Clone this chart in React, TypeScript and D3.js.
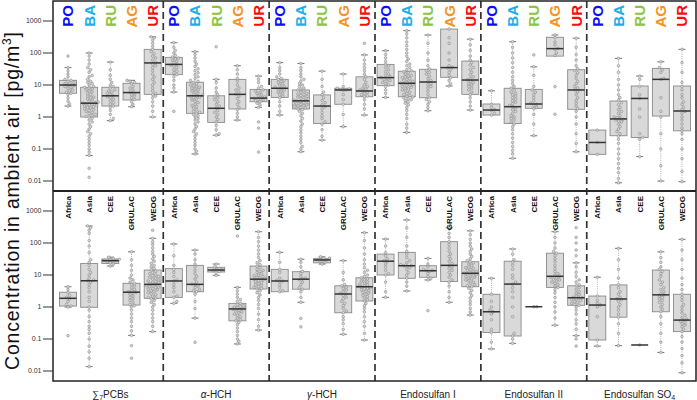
import React from "react";
import * as d3 from "d3";

// ---------- categories & labels ----------
const compounds = ["∑7PCBs", "α-HCH", "γ-HCH", "Endosulfan I", "Endosulfan II", "Endosulfan SO4"];
const samplerTypes = ["PO", "BA", "RU", "AG", "UR"];
const samplerColors = ["#0a0aff", "#1eaee8", "#8cc63f", "#f7931e", "#ff0a0a"];
const regions = ["Africa", "Asia", "CEE", "GRULAC", "WEOG"];
const tickValues = [0.01, 0.1, 1, 10, 100, 1000];
const tickLabels = ["0.01", "0.1", "1", "10", "100", "1000"];

// ---------- box statistics: [lowWhisker, q1, median, q3, highWhisker] ----------
// top panel: by sampler type (PO, BA, RU, AG, UR)
const pcbsTypeStats = [[2.2, 5.5, 10, 14, 35], [0.063, 1.0, 2.7, 8.5, 100], [0.77, 2.2, 4.6, 8.5, 52], [2.1, 3.4, 5.8, 11.3, 14], [1.0, 5.1, 49, 130, 320]];
const ahchTypeStats = [[6, 21, 44, 73, 210], [0.07, 1.3, 4.6, 12.2, 110], [0.27, 0.68, 1.87, 4.6, 15], [0.8, 1.78, 5.1, 15, 40], [2.0, 3.0, 3.9, 7.3, 19]];
const ghchTypeStats = [[1.15, 4.1, 7.9, 15, 50], [0.082, 1.78, 3.2, 7.0, 47], [0.19, 0.63, 2.2, 4.9, 27], [0.5, 2.5, 7.0, 7.9, 22], [1.15, 4.3, 6.5, 18, 87]];
const endoITypeStats = [[4.1, 9.5, 17, 44, 118], [0.33, 4.3, 11.3, 27, 500], [1.57, 4.0, 12.4, 31, 365], [9.3, 17.4, 35, 560, 560], [1.65, 5.1, 14.3, 56, 270]];
const endoIITypeStats = [[1.15, 1.15, 1.65, 2.55, 6.6], [0.051, 0.63, 2.1, 7.9, 225], [0.26, 1.87, 2.55, 7.3, 37], [80, 80, 137, 310, 365], [0.082, 1.74, 7.0, 30, 290]];
const endoSO4TypeStats = [[0.068, 0.068, 0.16, 0.39, 0.39], [0.0088, 0.26, 0.87, 3.16, 68], [0.058, 0.23, 3.8, 9.3, 19], [0.01, 1.07, 15, 33, 53], [0.0095, 0.37, 1.54, 9.3, 130]];

// bottom panel: by UN region (Africa, Asia, CEE, GRULAC, WEOG)
const pcbsRegionStats = [[1.0, 1.07, 1.87, 2.9, 4.3], [0.0137, 0.98, 6.6, 23, 340], [19, 23, 28, 31.6, 36], [0.13, 1.15, 2.9, 5.5, 53], [0.17, 1.87, 5.1, 14.3, 140]];
const ahchRegionStats = [[1.3, 2.0, 6.5, 15.8, 93], [0.45, 3.0, 5.1, 20, 60], [9.8, 12.4, 14.3, 17.4, 22], [0.07, 0.37, 0.87, 1.3, 4.1], [0.19, 3.65, 7.4, 19, 225]];
const ghchRegionStats = [[3.0, 3.0, 6.5, 15, 51], [1.4, 3.6, 7.4, 12.7, 31], [22, 24, 29.5, 33, 37], [0.14, 0.66, 2.55, 4.6, 28], [0.093, 1.54, 4.3, 8.2, 210]];
const endoIRegionStats = [[2.0, 10, 27, 45, 133], [3.16, 7.9, 19.5, 51, 525], [7, 8.5, 13.6, 19.5, 33], [1.4, 6.3, 20, 110, 300], [0.56, 4.3, 11.3, 26, 240]];
const endoIIRegionStats = [[0.049, 0.16, 0.71, 2.5, 7.9], [0.073, 0.124, 5.2, 27, 65], [1.02, 1.02, 1.02, 1.02, 1.02], [0.27, 4.1, 9.1, 48, 225], [0.127, 1.13, 1.95, 4.6, 24]];
const endoSO4RegionStats = [[0.06, 0.093, 1.15, 2.2, 8.5], [0.062, 0.48, 1.78, 4.9, 68], [0.065, 0.065, 0.065, 0.065, 0.065], [0.038, 0.71, 2.4, 14.3, 53], [0.0088, 0.17, 0.39, 2.5, 130]];

// ---------- individual samples (pg/m3) ----------
const pcbsTypePoints = [
  [80, 35, 28, 22, 18, 15, 14, 13, 12, 11, 10.5, 10, 9.5, 9, 8.5, 8, 7, 6.5, 6, 5.5, 5, 4, 3.2, 2.6, 2.2],
  [100, 80, 60, 45, 35, 30, 25, 20, 18, 15, 13, 12, 11, 10, 9, 8.5, 8, 7.5, 7, 6.5, 6, 5.5, 5, 4.5, 4.2, 4, 3.7, 3.4, 3.1, 2.9, 2.8, 2.7, 2.6, 2.5, 2.4, 2.3, 2.2, 2.1, 2, 1.9, 1.8, 1.7, 1.6, 1.5, 1.4, 1.3, 1.2, 1.1, 1.05, 1.0, 0.9, 0.8, 0.7, 0.6, 0.5, 0.42, 0.35, 0.3, 0.25, 0.2, 0.16, 0.13, 0.1, 0.08, 0.063, 0.025, 0.013],
  [52, 30, 20, 15, 12, 10, 9, 8, 7, 6.5, 6, 5.5, 5, 4.6, 4.3, 4, 3.6, 3.2, 2.8, 2.5, 2.2, 2, 1.6, 1.2, 0.9, 0.77],
  [14, 13, 12, 11, 9, 8, 7, 6, 5.5, 5, 4.5, 4, 3.5, 3, 2.5, 2.1],
  [320, 300, 250, 200, 160, 130, 110, 95, 80, 70, 60, 50, 45, 40, 35, 28, 22, 18, 15, 12, 10, 8, 6.5, 5.5, 5, 4.5, 4, 3, 2.2, 1.5, 1.0],
];
const ahchTypePoints = [
  [210, 150, 120, 100, 85, 75, 70, 65, 60, 55, 50, 45, 42, 40, 35, 30, 27, 24, 21, 18, 14, 10, 8, 6, 1.5],
  [110, 90, 70, 55, 45, 38, 32, 28, 24, 21, 18, 16, 14, 13, 12, 11, 10, 9.5, 9, 8.5, 8, 7.5, 7, 6.5, 6, 5.5, 5, 4.8, 4.6, 4.4, 4.2, 4, 3.7, 3.4, 3.1, 2.8, 2.5, 2.3, 2.1, 1.9, 1.7, 1.5, 1.4, 1.3, 1.2, 1.1, 1, 0.9, 0.8, 0.7, 0.6, 0.5, 0.42, 0.35, 0.3, 0.25, 0.2, 0.16, 0.13, 0.1, 0.085, 0.07],
  [157, 15, 12, 8, 6, 5, 4.5, 4, 3.5, 3, 2.5, 2.2, 1.9, 1.6, 1.4, 1.2, 1, 0.85, 0.7, 0.55, 0.4, 0.3, 0.27],
  [40, 30, 22, 16, 13, 10, 8, 7, 6, 5.2, 4.5, 3.8, 3, 2.5, 2, 1.7, 1.3, 1, 0.8],
  [19, 15, 12, 9, 8, 7, 6.5, 6, 5.5, 5, 4.6, 4.2, 4, 3.8, 3.6, 3.4, 3.2, 3, 2.7, 2.4, 2, 0.7, 0.45, 0.08],
];
const ghchTypePoints = [
  [50, 35, 28, 22, 18, 16, 15, 14, 13, 12, 11, 10, 9, 8.5, 8, 7.5, 7, 6.5, 6, 5.5, 5, 4.5, 4, 3, 2.2, 1.5, 1.15],
  [47, 35, 28, 22, 18, 15, 13, 11, 10, 9, 8, 7.5, 7, 6.5, 6, 5.5, 5.2, 5, 4.7, 4.4, 4.2, 4, 3.8, 3.6, 3.4, 3.3, 3.2, 3.1, 3, 2.9, 2.8, 2.7, 2.6, 2.5, 2.4, 2.3, 2.2, 2.1, 2, 1.9, 1.8, 1.7, 1.5, 1.3, 1.1, 0.9, 0.75, 0.6, 0.5, 0.4, 0.32, 0.25, 0.2, 0.16, 0.12, 0.1, 0.082],
  [27, 15, 9, 6, 5, 4, 3.3, 2.8, 2.4, 2.1, 1.8, 1.4, 1.1, 0.9, 0.7, 0.6, 0.4, 0.25, 0.19],
  [22, 9, 8, 7.5, 7.2, 7, 6.8, 5, 3.5, 2.5, 1.2, 0.5],
  [200, 87, 60, 45, 35, 28, 22, 18, 15, 12, 10, 9, 8, 7.5, 7, 6.5, 6, 5.5, 5, 4.6, 4.3, 3.5, 2.5, 1.8, 1.15],
];
const endoITypePoints = [
  [118, 90, 70, 55, 45, 40, 35, 30, 26, 22, 20, 18, 17, 16, 15, 14, 13, 12, 11, 10, 9, 7, 5.5, 4.1],
  [500, 400, 300, 220, 170, 130, 100, 80, 65, 55, 45, 40, 35, 30, 28, 26, 24, 22, 20, 19, 18, 17, 16, 15, 14, 13, 12.5, 12, 11.5, 11, 10.5, 10, 9.5, 9, 8.5, 8, 7.5, 7, 6.5, 6, 5.5, 5, 4.7, 4.4, 4.2, 4, 3.7, 3.5, 3.3, 3, 2.7, 2.4, 2, 1.6, 1.2, 0.9, 0.6, 0.45, 0.33],
  [365, 200, 100, 60, 40, 32, 28, 25, 22, 19, 16, 14, 12.5, 11, 10, 9, 8, 6.5, 5, 4, 3.5, 3, 2.5, 2, 1.57],
  [560, 300, 200, 100, 60, 40, 36, 34, 30, 25, 20, 17, 14, 11, 9.3],
  [270, 180, 120, 80, 60, 50, 42, 35, 30, 25, 21, 18, 16, 14.5, 13, 12, 11, 10, 9, 8, 7, 6, 5, 4, 3, 2.2, 1.65],
];
const endoIITypePoints = [
  [6.6, 2.5, 2.0, 1.7, 1.6, 1.3, 1.15],
  [225, 150, 100, 70, 50, 35, 25, 18, 14, 11, 9, 8, 7, 6, 5.5, 5, 4.5, 4, 3.6, 3.2, 2.9, 2.6, 2.3, 2.1, 1.9, 1.7, 1.5, 1.3, 1.1, 1, 0.9, 0.8, 0.7, 0.6, 0.5, 0.4, 0.3, 0.22, 0.16, 0.12, 0.09, 0.07, 0.051],
  [87, 37, 20, 9, 7, 6, 5, 4, 3.2, 2.7, 2.5, 2.3, 2, 1.8, 1.2, 0.6, 0.26],
  [365, 300, 220, 180, 140, 130, 100, 85, 8.9, 1.22],
  [290, 150, 90, 60, 40, 32, 28, 24, 20, 16, 13, 11, 9, 8, 7, 6, 5, 4, 3.3, 2.7, 2.2, 1.8, 1.5, 1, 0.6, 0.3, 0.15, 0.082],
];
const endoSO4TypePoints = [
  [0.39, 0.16, 0.068],
  [68, 40, 25, 15, 10, 7, 5, 4, 3.3, 2.8, 2.4, 2, 1.7, 1.5, 1.3, 1.1, 1, 0.95, 0.9, 0.85, 0.8, 0.75, 0.7, 0.6, 0.5, 0.42, 0.35, 0.3, 0.25, 0.2, 0.15, 0.1, 0.07, 0.05, 0.035, 0.025, 0.018, 0.012, 0.0088],
  [19, 15, 9, 5, 3.8, 1.8, 1, 0.3, 0.23, 0.2, 0.058],
  [53, 35, 30, 25, 16, 15, 4, 1.5, 1, 0.3, 0.1, 0.03, 0.01],
  [130, 50, 25, 12, 9, 7, 5, 4, 3, 2.5, 2, 1.7, 1.5, 1.3, 1, 0.8, 0.6, 0.45, 0.37, 0.3, 0.2, 0.1, 0.05, 0.02, 0.0095],
];

const pcbsRegionPoints = [
  [4.3, 3.5, 2.8, 2.3, 2, 1.8, 1.5, 1.2, 1.07, 1.0, 0.127],
  [340, 300, 250, 200, 120, 80, 50, 30, 25, 20, 15, 12, 10, 8, 7, 6.6, 6, 5, 4, 3, 2, 1.5, 1, 0.8, 0.5, 0.35, 0.25, 0.2, 0.15, 0.1, 0.06, 0.04, 0.025, 0.0137],
  [36, 33, 31, 30, 29, 28, 27, 26, 24, 22, 19],
  [53, 30, 20, 14, 10, 8, 7, 6, 5.5, 5, 4.5, 4, 3.5, 3.2, 3, 2.9, 2.7, 2.5, 2.2, 2, 1.8, 1.6, 1.4, 1.2, 1.1, 1, 0.8, 0.6, 0.45, 0.35, 0.25, 0.18, 0.13, 0.062, 0.025],
  [250, 140, 110, 90, 70, 55, 45, 38, 32, 27, 23, 20, 18, 16, 14.5, 13, 12, 11, 10, 9.5, 9, 8.5, 8, 7.5, 7, 6.5, 6.2, 6, 5.7, 5.4, 5.1, 4.9, 4.6, 4.4, 4.2, 4, 3.8, 3.6, 3.4, 3.2, 3, 2.8, 2.6, 2.4, 2.2, 2, 1.9, 1.8, 1.6, 1.4, 1.2, 1, 0.8, 0.6, 0.45, 0.35, 0.25, 0.17],
];
const ahchRegionPoints = [
  [93, 40, 20, 15, 12, 9, 7, 6.5, 5, 4, 3, 2.2, 2, 1.5, 1.3],
  [60, 45, 30, 22, 18, 14, 11, 9, 7.5, 6, 5.2, 5, 4.5, 4, 3.5, 3.2, 3, 2.5, 1.5, 0.9, 0.45, 0.079],
  [22, 18, 16, 15, 14.5, 14, 13, 12, 9.8],
  [165, 4.1, 3.2, 2.5, 2, 1.7, 1.5, 1.3, 1.2, 1.1, 1.05, 1, 0.95, 0.9, 0.87, 0.85, 0.8, 0.75, 0.7, 0.65, 0.6, 0.55, 0.5, 0.45, 0.4, 0.37, 0.33, 0.28, 0.22, 0.17, 0.13, 0.1, 0.085, 0.07],
  [225, 150, 110, 80, 60, 45, 35, 28, 24, 21, 19, 17, 15, 14, 13, 12, 11, 10, 9.5, 9, 8.5, 8, 7.7, 7.4, 7, 6.6, 6.2, 5.8, 5.4, 5, 4.7, 4.4, 4.1, 3.8, 3.65, 3.2, 2.8, 2.4, 2, 1.6, 1.2, 0.9, 0.6, 0.4, 0.25, 0.19],
];
const ghchRegionPoints = [
  [51, 25, 15, 12, 8, 6.8, 6.5, 6.3, 5, 4, 3.2, 3],
  [31, 25, 18, 13, 11, 9, 8, 7.5, 7, 6, 5, 4, 3.6, 3, 2, 1.4, 0.44, 0.24],
  [37, 34, 32, 30, 29.5, 29, 27, 25, 22],
  [28, 12, 7, 5, 4.6, 4.2, 3.8, 3.4, 3, 2.7, 2.55, 2.3, 2, 1.8, 1.5, 1.3, 1.1, 0.9, 0.75, 0.66, 0.5, 0.4, 0.3, 0.2, 0.14],
  [210, 120, 70, 45, 30, 22, 17, 14, 12, 10, 9, 8.2, 7.5, 7, 6.5, 6, 5.6, 5.2, 4.9, 4.6, 4.4, 4.3, 4.1, 3.9, 3.7, 3.5, 3.3, 3.1, 2.9, 2.7, 2.5, 2.3, 2.1, 1.9, 1.7, 1.54, 1.3, 1.1, 0.9, 0.7, 0.5, 0.35, 0.25, 0.15, 0.093],
];
const endoIRegionPoints = [
  [133, 80, 50, 40, 32, 28, 26, 22, 18, 14, 11, 10, 6, 3, 2],
  [525, 300, 150, 80, 55, 45, 35, 28, 24, 21, 20, 19.5, 19, 17, 15, 12, 10, 8, 6, 4.5, 3.16],
  [33, 22, 18, 15, 14, 13.6, 13, 11, 9, 8, 7, 0.77],
  [300, 200, 150, 110, 90, 70, 55, 45, 38, 32, 27, 23, 20, 18, 16, 14, 12, 10, 8.5, 7, 6, 4.5, 3, 2, 1.4],
  [240, 180, 130, 100, 80, 65, 55, 45, 38, 32, 28, 26, 24, 22, 20, 18, 17, 16, 15, 14, 13, 12.5, 12, 11.5, 11, 10.5, 10, 9.5, 9, 8.5, 8, 7.5, 7, 6.5, 6, 5.5, 5, 4.6, 4.3, 3.8, 3.3, 2.8, 2.3, 1.9, 1.5, 1.2, 0.9, 0.7, 0.56],
];
const endoIIRegionPoints = [
  [7.9, 2.5, 1.5, 1, 0.8, 0.71, 0.6, 0.4, 0.2, 0.16, 0.08, 0.049],
  [65, 45, 30, 25, 20, 15, 10, 8, 6, 5.2, 4, 3, 2, 1, 0.5, 0.15, 0.124, 0.1, 0.073],
  [1.02, 1.02],
  [225, 150, 100, 70, 55, 48, 40, 32, 26, 20, 16, 13, 11, 10, 9.1, 8.5, 8, 7.5, 7, 6.5, 6, 5.5, 5, 4.5, 4.1, 3.5, 2.8, 2, 1.4, 1, 0.7, 0.45, 0.27],
  [300, 150, 100, 60, 40, 24, 18, 12, 9, 7, 6, 5, 4.6, 4, 3.5, 3, 2.7, 2.4, 2.2, 2, 1.95, 1.9, 1.8, 1.7, 1.6, 1.5, 1.4, 1.3, 1.2, 1.13, 1, 0.8, 0.6, 0.4, 0.3, 0.2, 0.127, 0.1, 0.06],
];
const endoSO4RegionPoints = [
  [8.5, 2.2, 1.6, 1.3, 1.15, 1, 0.5, 0.093, 0.06],
  [68, 30, 15, 8, 5, 4, 3, 2.5, 2, 1.8, 1.7, 1.5, 1.2, 1, 0.8, 0.6, 0.48, 0.3, 0.15, 0.062],
  [0.065],
  [53, 35, 25, 18, 15, 13, 11, 9, 7, 6, 5, 4, 3.5, 3, 2.6, 2.4, 2.2, 2, 1.8, 1.6, 1.4, 1.2, 1, 0.85, 0.71, 0.5, 0.3, 0.15, 0.08, 0.038],
  [130, 60, 30, 15, 8, 5, 3.5, 2.5, 2, 1.6, 1.2, 1, 0.8, 0.65, 0.55, 0.47, 0.42, 0.39, 0.36, 0.33, 0.3, 0.27, 0.24, 0.2, 0.17, 0.12, 0.08, 0.05, 0.03, 0.018, 0.0088],
];

const typeStats = [pcbsTypeStats, ahchTypeStats, ghchTypeStats, endoITypeStats, endoIITypeStats, endoSO4TypeStats];
const regionStats = [pcbsRegionStats, ahchRegionStats, ghchRegionStats, endoIRegionStats, endoIIRegionStats, endoSO4RegionStats];
const typePoints = [pcbsTypePoints, ahchTypePoints, ghchTypePoints, endoITypePoints, endoIITypePoints, endoSO4TypePoints];
const regionPoints = [pcbsRegionPoints, ahchRegionPoints, ghchRegionPoints, endoIRegionPoints, endoIIRegionPoints, endoSO4RegionPoints];

// ---------- layout ----------
const W = 697;
const H = 400;
const frameL = 53;
const frameR = 696;
const topY0 = 1;
const midY = 191;
const botY1 = 381;
const FONT = "'Liberation Sans', Arial, Helvetica, sans-serif";

const PT_R = 1.35;

function swarm(values: number[], y: (v: number) => number, cx: number, maxOff: number) {
  const ys = values.map((v) => y(v)).sort((a, b) => b - a);
  const placed: { x: number; y: number }[] = [];
  const step = 1.5;
  const cands: number[] = [0];
  for (let k = 1; k * step <= maxOff; k++) cands.push(k * step, -k * step);
  const minD = 2.7;
  for (const py of ys) {
    let best = 0;
    let bestHits = Infinity;
    for (const c of cands) {
      let hits = 0;
      for (const p of placed) {
        const dy = p.y - py;
        if (Math.abs(dy) >= minD) continue;
        const dx = p.x - (cx + c);
        if (dx * dx + dy * dy < minD * minD) hits++;
      }
      if (hits === 0) {
        best = c;
        bestHits = 0;
        break;
      }
      if (hits < bestHits) {
        bestHits = hits;
        best = c;
      }
    }
    placed.push({ x: cx + best, y: py });
  }
  return placed;
}

function CompoundLabel({ name, x, y }: { name: string; x: number; y: number }) {
  let content: React.ReactNode = name;
  if (name.startsWith("∑")) {
    content = (
      <>
        <tspan>∑</tspan>
        <tspan fontSize={7} dy={2}>{name.slice(1, 2)}</tspan>
        <tspan dy={-2}>{name.slice(2)}</tspan>
      </>
    );
  } else if (name.startsWith("α") || name.startsWith("γ")) {
    content = (
      <>
        <tspan fontStyle="italic">{name.slice(0, 1)}</tspan>
        <tspan>{name.slice(1)}</tspan>
      </>
    );
  } else if (/\d$/.test(name)) {
    content = (
      <>
        <tspan>{name.slice(0, -1)}</tspan>
        <tspan fontSize={7} dy={2}>{name.slice(-1)}</tspan>
      </>
    );
  }
  return (
    <text x={x} y={y} textAnchor="middle" fontSize={10} fill="#222" fontFamily={FONT}>
      {content}
    </text>
  );
}

function BoxCell({ stats, pts, cx, y, boxW }: { stats: number[]; pts: number[]; cx: number; y: d3.ScaleLogarithmic<number, number>; boxW: number }) {
  const [lo, q1, med, q3, hi] = stats;
  const half = boxW / 2;
  const capHalf = 3.5;
  const placed = swarm(pts, (v) => y(v), cx, half + 1.5);
  return (
    <g>
      {hi > q3 && <line x1={cx} x2={cx} y1={y(hi)} y2={y(q3)} stroke="#9a9a9a" strokeWidth={0.8} strokeDasharray="1,1.2" />}
      {lo < q1 && <line x1={cx} x2={cx} y1={y(q1)} y2={y(lo)} stroke="#9a9a9a" strokeWidth={0.8} strokeDasharray="1,1.2" />}
      {hi > q3 && <line x1={cx - capHalf} x2={cx + capHalf} y1={y(hi)} y2={y(hi)} stroke="#666" strokeWidth={0.9} />}
      {lo < q1 && <line x1={cx - capHalf} x2={cx + capHalf} y1={y(lo)} y2={y(lo)} stroke="#666" strokeWidth={0.9} />}
      <rect x={cx - half} y={y(q3)} width={boxW} height={Math.max(0, y(q1) - y(q3))} fill="#d9d9d9" stroke="#8a8a8a" strokeWidth={0.9} />
      {placed.map((p, i) => (
        <circle key={i} cx={p.x} cy={p.y} r={PT_R} fill="#d4d4d4" stroke="#777" strokeWidth={0.45} />
      ))}
      <line x1={cx - half} x2={cx + half} y1={y(med)} y2={y(med)} stroke="#333" strokeWidth={1.5} />
    </g>
  );
}

export default function App() {
  const xGroup = d3.scaleBand<string>().domain(compounds).range([57.4, 692.6]).padding(0);
  const xInner = d3.scaleBand<number>().domain(d3.range(5)).range([0, xGroup.bandwidth()]).padding(0);
  const cxOf = (gi: number, ti: number) => (xGroup(compounds[gi]) as number) + (xInner(ti) as number) + xInner.bandwidth() / 2;
  const boxW = xInner.bandwidth() * 0.8;

  const decadePx = 32;
  const yTop = d3.scaleLog().domain([Math.pow(10, -2 - 10 / decadePx), Math.pow(10, 3 + 20 / decadePx)]).range([midY, topY0]);
  const yBot = d3.scaleLog().domain([Math.pow(10, -2 - 10 / decadePx), Math.pow(10, 3 + 20 / decadePx)]).range([botY1, midY]);

  const panels = [
    { y: yTop, stats: typeStats, pts: typePoints },
    { y: yBot, stats: regionStats, pts: regionPoints },
  ];

  return (
    <svg width={W} height={H} viewBox={`0 0 ${W} ${H}`} style={{ position: "absolute", left: 0, top: 0, background: "#fff" }} fontFamily={FONT}>
      <rect x={0} y={0} width={W} height={H} fill="#fff" />
      {/* boxes */}
      {panels.map((pn, pi) => (
        <g key={pi}>
          {compounds.map((c, gi) =>
            pn.stats[gi].map((s, ti) => (
              <BoxCell key={c + ti} stats={s} pts={pn.pts[gi][ti]} cx={cxOf(gi, ti)} y={pn.y} boxW={boxW} />
            ))
          )}
        </g>
      ))}
      {/* dashed separators */}
      {compounds.slice(1).map((c) => (
        <line key={c} x1={xGroup(c)} x2={xGroup(c)} y1={topY0} y2={botY1} stroke="#333" strokeWidth={1.7} strokeDasharray="7,4" />
      ))}
      {/* frames */}
      <rect x={frameL} y={topY0} width={frameR - frameL} height={botY1 - topY0} fill="none" stroke="#222" strokeWidth={1.5} />
      <line x1={frameL} x2={frameR} y1={midY} y2={midY} stroke="#222" strokeWidth={2} />
      {/* y axes */}
      {panels.map((pn, pi) => (
        <g key={"ax" + pi}>
          {tickValues.map((v, i) => (
            <g key={v}>
              <line x1={frameL - 10} x2={frameL} y1={pn.y(v)} y2={pn.y(v)} stroke="#333" strokeWidth={1} />
              <text x={frameL - 11.5} y={pn.y(v)} dy="0.35em" textAnchor="end" fontSize={7} fill="#333">
                {tickLabels[i]}
              </text>
            </g>
          ))}
        </g>
      ))}
      {/* top labels: sampler types */}
      {compounds.map((c, gi) =>
        samplerTypes.map((t, ti) => (
          <text key={c + t} transform={`translate(${cxOf(gi, ti) + 5.4},${5}) rotate(-90)`} textAnchor="end" fontSize={15} fontWeight="bold" fill={samplerColors[ti]}>
            {t}
          </text>
        ))
      )}
      {/* bottom labels: regions */}
      {compounds.map((c, gi) =>
        regions.map((r, ti) => (
          <text key={c + r} transform={`translate(${cxOf(gi, ti) + 2.9},${196}) rotate(-90)`} textAnchor="end" fontSize={8} fontWeight="bold" fill="#111">
            {r}
          </text>
        ))
      )}
      {/* compound labels */}
      {compounds.map((c) => (
        <CompoundLabel key={c} name={c} x={(xGroup(c) as number) + xGroup.bandwidth() / 2} y={397.5} />
      ))}
      {/* y title */}
      <text transform={`translate(18.5,201) rotate(-90)`} textAnchor="middle" fontSize={19.5} fill="#111" textLength={338} lengthAdjust="spacing">
        Concentration in ambient air [pg/m<tspan fontSize={12} dy={-8}>3</tspan><tspan dy={8}>]</tspan>
      </text>
    </svg>
  );
}
